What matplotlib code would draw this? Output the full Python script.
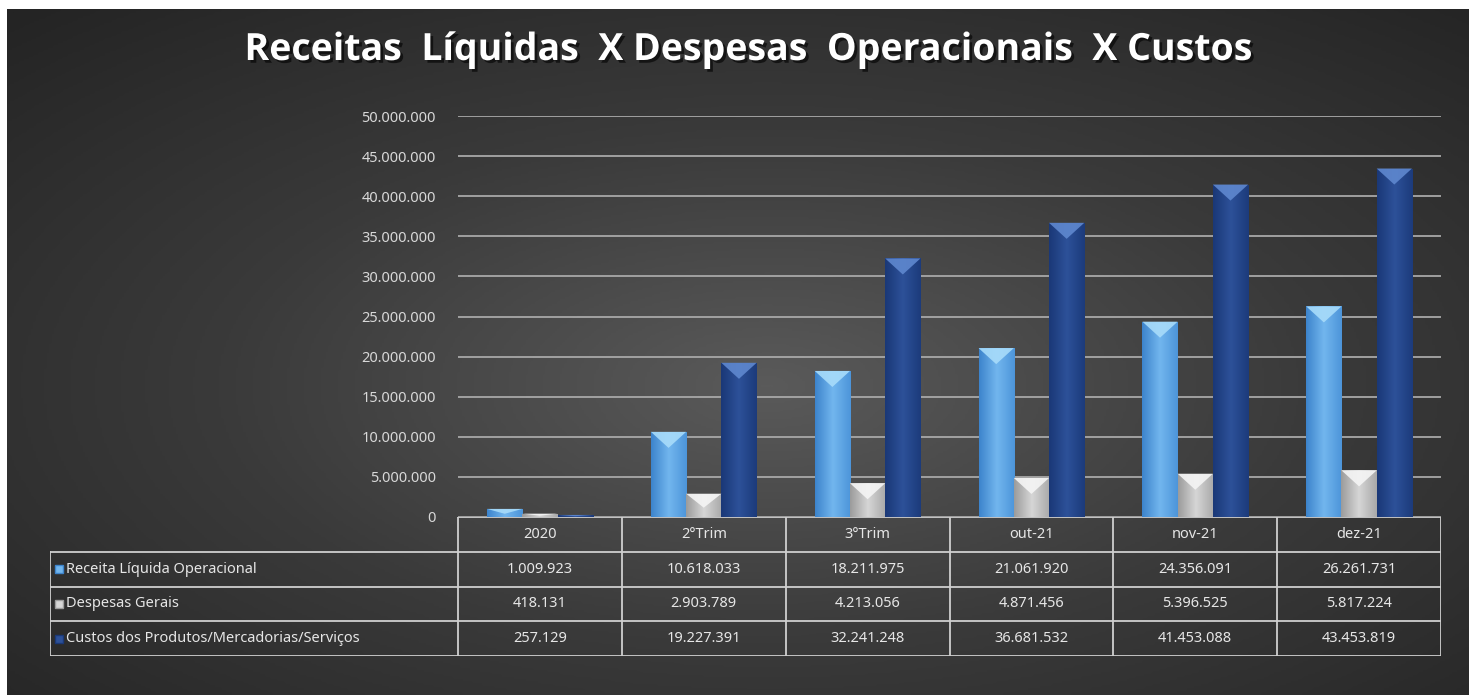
import numpy as np
import matplotlib.pyplot as plt
from matplotlib.colors import LinearSegmentedColormap
from matplotlib.patches import Polygon
import matplotlib.patheffects as pe

categorias = ['2020', '2°Trim', '3°Trim', 'out-21', 'nov-21', 'dez-21']
receita = [1009923, 10618033, 18211975, 21061920, 24356091, 26261731]
despesas = [418131, 2903789, 4213056, 4871456, 5396525, 5817224]
custos = [257129, 19227391, 32241248, 36681532, 41453088, 43453819]
nomes = ['Receita Líquida Operacional', 'Despesas Gerais',
         'Custos dos Produtos/Mercadorias/Serviços']
yticks = list(range(0, 50000001, 5000000))

# cores: gradiente lateral + topo da "piramide"
estilos = [
    (['#3d84cc', '#72b6ee', '#4d95da'], '#a8dcfa'),
    (['#9c9c9c', '#d6d6d6', '#a9a9a9'], '#f5f5f5'),
    (['#1a3877', '#2d5199', '#1c3b7b'], '#5f88cf'),
]

W, H = 1469, 695
fig = plt.figure(figsize=(W / 100, H / 100), dpi=100, facecolor='white')


def fmt(v):
    return f'{v:,}'.replace(',', '.')


# fundo com gradiente radial
bg = fig.add_axes([7 / W, 0, 1 - 7 / W, 1 - 9 / H])
yy, xx = np.mgrid[0:1:300j, 0:1:600j]
d = np.sqrt(((xx - 0.52) / 0.75) ** 2 + ((yy - 0.45) / 0.75) ** 2)
d = np.clip(d, 0, 1)
cm_bg = LinearSegmentedColormap.from_list('bg', ['#5a5a5a', '#3a3a3a', '#242424'])
bg.imshow(d, cmap=cm_bg, aspect='auto', extent=[0, 1, 0, 1], origin='lower')
bg.set_axis_off()

# area do grafico
ax = fig.add_axes([458 / W, 1 - 517 / H, (1441 - 458) / W, (517 - 116) / H])
ax.set_facecolor('none')
x = np.arange(len(categorias))
w = 0.215
for k, (vals, (grad, topo)) in enumerate(zip([receita, despesas, custos], estilos)):
    bars = ax.bar(x + (k - 1) * w, vals, w, color=grad[1], zorder=3, linewidth=0)
    cmap = LinearSegmentedColormap.from_list(f's{k}', grad)
    for b in bars:
        bx, bw, bh = b.get_x(), b.get_width(), b.get_height()
        im = ax.imshow(np.linspace(0, 1, 64).reshape(1, -1), cmap=cmap, aspect='auto',
                       extent=[bx, bx + bw, 0, bh], zorder=4)
        im.set_clip_path(b)
        prof = min(2.0e6, 0.6 * bh)
        tri = Polygon([(bx, bh), (bx + bw, bh), (bx + bw / 2, bh - prof)],
                      closed=True, facecolor=topo, edgecolor='none', zorder=5, alpha=0.9)
        ax.add_patch(tri)

ax.set_xlim(-0.5, len(categorias) - 0.5)
ax.set_ylim(0, 50000000)
ax.set_yticks(yticks)
ax.set_yticklabels([fmt(v) for v in yticks], color='#d8d8d8', fontsize=10.5,
                   family='Noto Sans')
ax.tick_params(axis='y', length=0, pad=16)
ax.set_xticks([])
ax.yaxis.grid(True, color='#a8a8a8', linewidth=1.3, zorder=0)
for s in ax.spines.values():
    s.set_visible(False)

# tabela de dados
tab = fig.add_axes([50 / W, 1 - 656 / H, (1441 - 50) / W, (656 - 517) / H])
tab.set_axis_off()
xl = -0.5 - (458 - 50) / ((1441 - 458) / len(categorias))
tab.set_xlim(xl, len(categorias) - 0.5)
tab.set_ylim(4, 0)
lc = '#cfcfcf'
tab.plot([-0.5, len(categorias) - 0.5], [0, 0], color=lc, lw=1.3)
for r in range(1, 5):
    tab.plot([xl, len(categorias) - 0.5], [r, r], color=lc, lw=1.3)
for i in range(len(categorias) + 1):
    tab.plot([i - 0.5, i - 0.5], [0, 4], color=lc, lw=1.3)
tab.plot([xl, xl], [1, 4], color=lc, lw=1.3)

tc = '#e6e6e6'
for i, c in enumerate(categorias):
    tab.text(i, 0.5, c, ha='center', va='center', color=tc, fontsize=10.5, family='Noto Sans')
for r, (nome, vals, (grad, topo)) in enumerate(zip(nomes, [receita, despesas, custos], estilos)):
    tab.plot([xl + 0.055], [r + 1.5], marker='s', markersize=6, color=grad[1],
             markeredgecolor=grad[0], markeredgewidth=1)
    tab.text(xl + 0.1, r + 1.5, nome, ha='left', va='center', color=tc, fontsize=10.5,
             family='Noto Sans')
    for i, v in enumerate(vals):
        tab.text(i, r + 1.5, fmt(v), ha='center', va='center', color=tc, fontsize=10.5,
                 family='Noto Sans')

fig.text(0.509, 1 - 50 / H, 'Receitas  Líquidas  X Despesas  Operacionais  X Custos',
         ha='center', va='center', color='white', fontsize=27, fontweight='bold',
         family='Open Sans',
         path_effects=[pe.withSimplePatchShadow(offset=(2, -2), shadow_rgbFace='black', alpha=0.6)])

fig.savefig('out.png', dpi=100, facecolor='white')
